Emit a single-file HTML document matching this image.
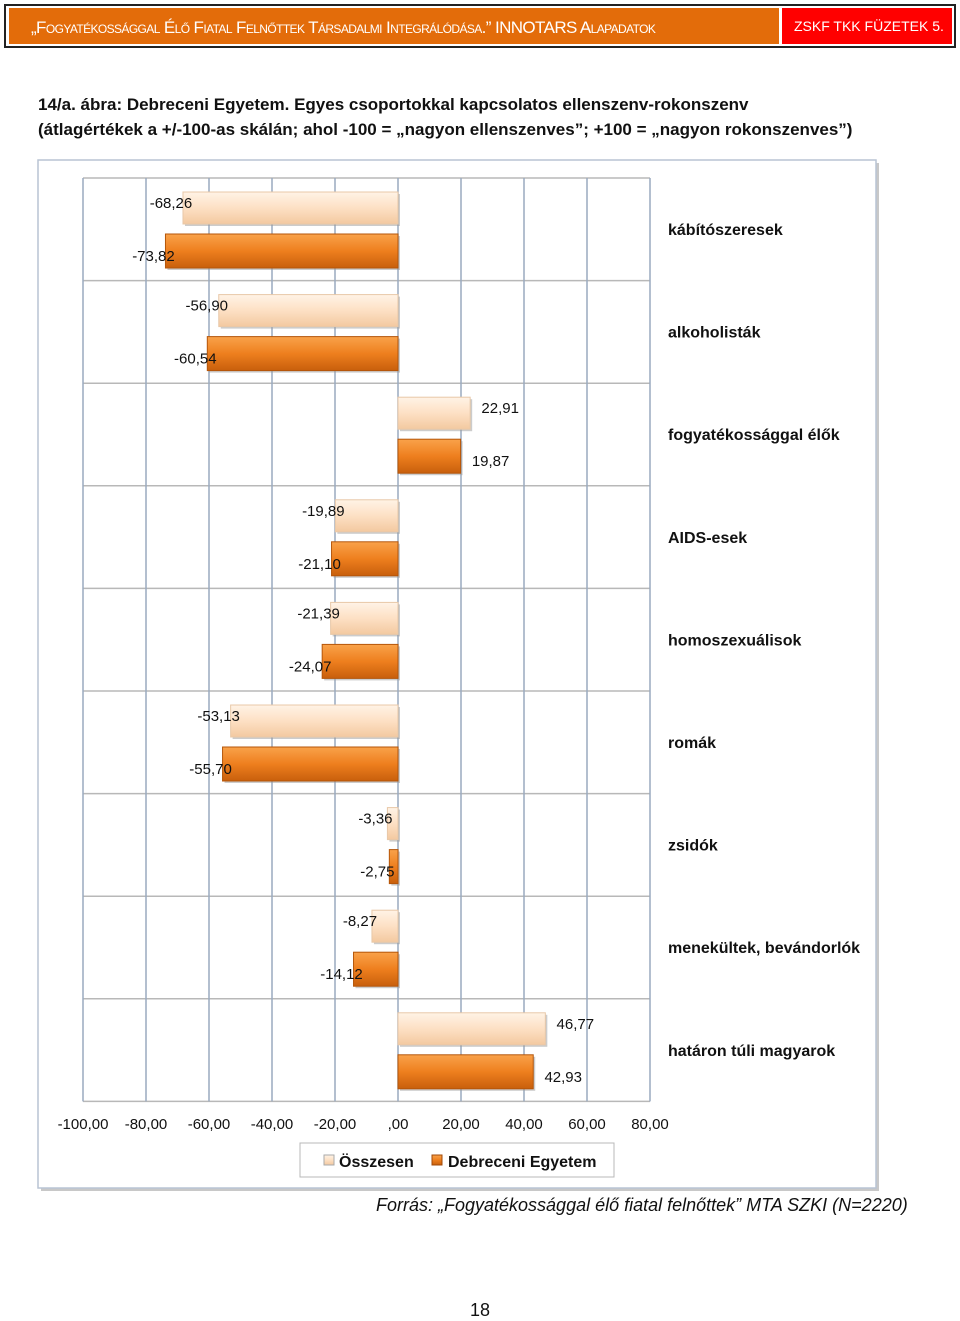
<!DOCTYPE html>
<html><head><meta charset="utf-8"><style>
body{margin:0;width:960px;height:1320px;background:#fff;font-family:"Liberation Sans",sans-serif;position:relative;overflow:hidden}
.hdr{position:absolute;left:4px;top:4px;width:952px;height:44px;border:2px solid #222;box-sizing:border-box;background:#fff}
.h1{position:absolute;left:3px;top:2px;width:770px;height:36px;background:#e36c0a;color:#fff;font-size:17px;font-variant:small-caps;letter-spacing:-0.6px;line-height:40px;padding-left:22px;box-sizing:border-box;white-space:nowrap;overflow:hidden}
.h2{position:absolute;left:776px;top:2px;width:170px;height:36px;background:#f00;color:#fff;font-size:14px;line-height:36px;padding-left:12px;box-sizing:border-box;white-space:nowrap}
.title{position:absolute;left:38px;top:92px;font-size:17px;font-weight:bold;color:#111;line-height:25px}
.src{position:absolute;left:376px;top:1195px;font-size:18px;font-style:italic;color:#111}
.pg{position:absolute;left:470px;top:1300px;font-size:18px;color:#111}
</style></head><body>
<div class="hdr">
<div class="h1">„Fogyatékossággal Élő Fiatal Felnőttek Társadalmi Integrálódása.” INNOTARS Alapadatok</div>
<div class="h2">ZSKF TKK FÜZETEK 5.</div>
</div>
<div class="title">14/a. ábra: Debreceni Egyetem. Egyes csoportokkal kapcsolatos ellenszenv-rokonszenv<br>(átlagértékek a +/-100-as skálán; ahol -100 = „nagyon ellenszenves”; +100 = „nagyon rokonszenves”)</div>
<svg id="chart" width="960" height="1320" style="position:absolute;left:0;top:0">
<defs>
<linearGradient id="gl" x1="0" y1="0" x2="0" y2="1"><stop offset="0" stop-color="#fff3e6"/><stop offset="0.5" stop-color="#fde0c4"/><stop offset="1" stop-color="#f3c9a0"/></linearGradient>
<linearGradient id="go" x1="0" y1="0" x2="0" y2="1"><stop offset="0" stop-color="#f9a24a"/><stop offset="0.5" stop-color="#ee7f1e"/><stop offset="1" stop-color="#c85f0c"/></linearGradient>
</defs>
<rect x="41" y="163" width="838" height="1028" fill="#c8c8c8"/>
<rect x="38" y="160" width="838" height="1028" fill="#fff" stroke="#b9c4d4" stroke-width="1.5"/>
<g id="g"></g>
</svg>
<div class="src">Forrás: „Fogyatékossággal élő fiatal felnőttek” MTA SZKI (N=2220)</div>
<div class="pg">18</div>
<script>
const categories=["kábítószeresek","alkoholisták","fogyatékossággal élők","AIDS-esek","homoszexuálisok","romák","zsidók","menekültek, bevándorlók","határon túli magyarok"];
const osszesen=[-68.26,-56.90,22.91,-19.89,-21.39,-53.13,-3.36,-8.27,46.77];
const debrecen=[-73.82,-60.54,19.87,-21.10,-24.07,-55.70,-2.75,-14.12,42.93];
const ticks=[-100,-80,-60,-40,-20,0,20,40,60,80];
const tickLabels=["-100,00","-80,00","-60,00","-40,00","-20,00",",00","20,00","40,00","60,00","80,00"];
(function(){
const X=v=>398+v*3.15, topY=178, rowH=102.6;
const g=document.getElementById('g'), NS='http://www.w3.org/2000/svg';
function mk(t,a,p){const e=document.createElementNS(NS,t);for(const k in a)e.setAttribute(k,a[k]);(p||g).appendChild(e);return e;}
const bottom=topY+rowH*categories.length;
for(let i=0;i<=categories.length;i++){const l=mk('line',{x1:83,x2:650,y1:topY+i*rowH,y2:topY+i*rowH,stroke:'#b8b8b8','stroke-width':1.5});

}
ticks.forEach((t,i)=>{const l=mk('line',{x1:X(t),x2:X(t),y1:topY,y2:bottom,stroke:'#9aaabf','stroke-width':1.5});


const tx=mk('text',{x:X(t),y:1129,'text-anchor':'middle','font-size':15,fill:'#111'});tx.textContent=tickLabels[i];

});
function bar(v,y,h,fill,name,lblDy){
const x0=Math.min(X(0),X(v)),w=Math.abs(X(v)-X(0));
mk('rect',{x:x0+2,y:y+2,width:w,height:h,fill:'#999',opacity:0.5});
const r=mk('rect',{x:x0,y:y,width:w,height:h,fill:fill,stroke:fill==='url(#go)'?'#b5560a':'#e8c8a8','stroke-width':1});


const s=v.toFixed(2).replace('.',',');
const tt=mk('text',{x:v<0?X(v)-12:X(v)+30,y:y+h/2+lblDy,'text-anchor':'middle','font-size':15,fill:'#111'});
tt.textContent=s;

}
categories.forEach((c,i)=>{const y=topY+i*rowH;
bar(osszesen[i],y+14,32,'url(#gl)','bar-osszesen',0);
bar(debrecen[i],y+56,34,'url(#go)','bar-debrecen',10);
const ct=mk('text',{x:668,y:y+57,'font-size':16,'font-weight':'bold',fill:'#111'});ct.textContent=c;

});
const lg=mk('g',{});


mk('rect',{x:300,y:1143,width:314,height:34,fill:'#fff',stroke:'#b8b8b8'},lg);
mk('rect',{x:324,y:1155,width:10,height:10,fill:'url(#gl)',stroke:'#aaa'},lg);
let lt=mk('text',{x:339,y:1167,'font-size':16,'font-weight':'bold',fill:'#111'},lg);lt.textContent='Összesen';
mk('rect',{x:432,y:1155,width:10,height:10,fill:'url(#go)',stroke:'#a04a08'},lg);
lt=mk('text',{x:448,y:1167,'font-size':16,'font-weight':'bold',fill:'#111'},lg);lt.textContent='Debreceni Egyetem';
})();
</script>
</body></html>
